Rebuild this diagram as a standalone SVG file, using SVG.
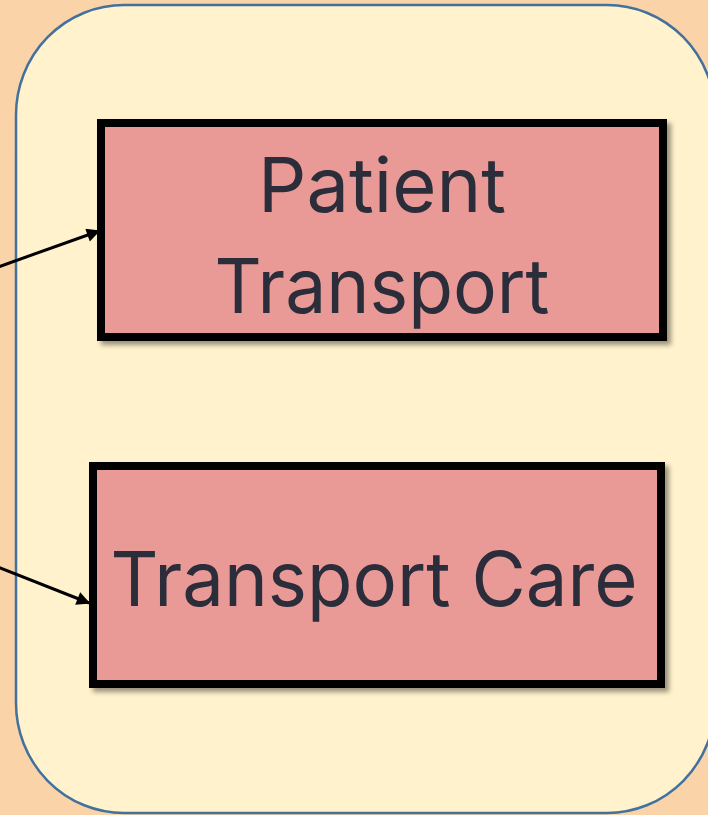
<svg xmlns="http://www.w3.org/2000/svg" width="708" height="815" viewBox="0 0 708 815">
<defs>
<style>
.container{fill:#FFF2CC;stroke:#41719C;stroke-width:2.5}
.node rect{fill:#EA9A96;stroke:#000;stroke-width:8;filter:url(#shadow)}
.node text{font-family:Inter,"Noto Sans","DejaVu Sans",sans-serif;font-size:76px;fill:#2B2D3A;text-anchor:middle}
.edge{stroke:#000;stroke-width:3;fill:none;marker-end:url(#arrow)}
</style>
<filter id="shadow" x="-10%" y="-10%" width="130%" height="130%">
<feDropShadow dx="4" dy="4" stdDeviation="2.5" flood-color="#000" flood-opacity="0.4"/>
</filter>
<marker id="arrow" viewBox="0 0 10 10" refX="9" refY="5" markerWidth="5.5" markerHeight="4.5" orient="auto" markerUnits="strokeWidth">
<path d="M0,0 L10,5 L0,10 z" fill="#000"/>
</marker>
</defs>
<rect width="708" height="815" fill="#FAD3A8"/>
<rect class="container" x="16" y="5" width="699" height="808" rx="108" ry="110"/>
<g id="patient-transport" class="node">
<rect x="101" y="123" width="562" height="214"/>
<text x="382" y="212" textLength="248" lengthAdjust="spacingAndGlyphs">Patient</text>
<text x="382" y="313" textLength="335" lengthAdjust="spacingAndGlyphs">Transport</text>
</g>
<g id="transport-care" class="node">
<rect x="93" y="466" width="568" height="218"/>
<text x="374" y="606" textLength="527" lengthAdjust="spacingAndGlyphs">Transport Care</text>
</g>
<g id="connectors">
<line class="edge" x1="-2" y1="267" x2="99" y2="231"/>
<line class="edge" x1="-2" y1="567" x2="89" y2="603"/>
</g>
</svg>
